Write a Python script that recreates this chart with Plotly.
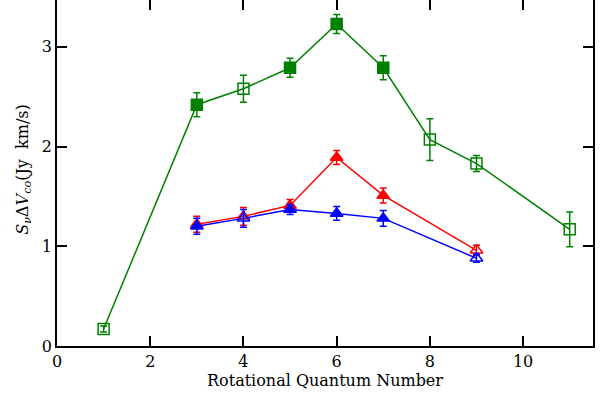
import plotly.graph_objects as go

# Green series (squares)
green_x = [1, 3, 4, 5, 6, 7, 8, 9, 11]
green_y = [0.17, 2.42, 2.58, 2.79, 3.23, 2.79, 2.07, 1.83, 1.17]
green_err = [0.03, 0.12, 0.135, 0.095, 0.095, 0.12, 0.21, 0.08, 0.175]
green_filled = [False, True, False, True, True, True, False, False, False]

# Red series (triangles)
red_x = [3, 4, 5, 6, 7, 9]
red_y = [1.22, 1.30, 1.41, 1.89, 1.51, 0.96]
red_err = [0.08, 0.09, 0.06, 0.07, 0.075, 0.05]
red_filled = [True, False, True, True, True, False]

# Blue series (triangles)
blue_x = [3, 4, 5, 6, 7, 9]
blue_y = [1.20, 1.28, 1.37, 1.33, 1.28, 0.88]
blue_err = [0.08, 0.09, 0.05, 0.07, 0.08, 0.04]
blue_filled = [True, False, True, True, True, False]

x_ticks = [0, 2, 4, 6, 8, 10]
y_ticks = [0, 1, 2, 3]

x_title = "Rotational Quantum Number"
y_title = "<i>S</i><sub><i>ν</i></sub>Δ<i>V</i><sub><i>co</i></sub>(Jy  km/s)"

FONT = "DejaVu Serif"


def sym(base, filled):
    return [base if f else base + "-open" for f in filled]


def add_series(fig, x, y, err, filled, base, color, size):
    fig.add_trace(go.Scatter(
        x=x, y=y, mode="lines+markers",
        line=dict(color=color, width=1.5),
        marker=dict(symbol=sym(base, filled), size=size, color=color,
                    line=dict(color=color, width=1.5)),
        error_y=dict(type="data", array=err, visible=True, color=color,
                     thickness=1.5, width=3.5),
        showlegend=False,
    ))


fig = go.Figure()
add_series(fig, green_x, green_y, green_err, green_filled, "square", "#008000", 11)
add_series(fig, red_x, red_y, red_err, red_filled, "triangle-up", "#ff0000", 11)
add_series(fig, blue_x, blue_y, blue_err, blue_filled, "triangle-up", "#0000ff", 11)

# invisible trace to activate top axis
fig.add_trace(go.Scatter(x=[0], y=[0], xaxis="x2", mode="markers",
                         marker=dict(opacity=0), showlegend=False, hoverinfo="skip"))

fig.update_layout(
    width=608, height=400,
    margin=dict(l=57, r=15, t=0, b=54),
    paper_bgcolor="white", plot_bgcolor="white",
    font=dict(family=FONT, size=16, color="black"),
    xaxis=dict(
        range=[0, 11.5], tickvals=x_ticks, ticks="inside", ticklen=10,
        tickwidth=1.5, tickcolor="black", showline=True, linecolor="black",
        linewidth=1.5, showgrid=False, zeroline=False,
        title=dict(text=x_title, font=dict(size=16), standoff=4),
        tickfont=dict(size=16),
    ),
    xaxis2=dict(
        range=[0, 11.5], overlaying="x", side="top", tickvals=x_ticks,
        ticks="inside", ticklen=10, tickwidth=1.5, tickcolor="black",
        showline=False, showticklabels=False, showgrid=False, zeroline=False,
    ),
    yaxis=dict(
        range=[0, 3.47], tickvals=y_ticks, ticks="inside", ticklen=10,
        tickwidth=1.5, tickcolor="black", showline=True, linecolor="black",
        linewidth=1.5, mirror="ticks", showgrid=False, zeroline=False,
        tickfont=dict(size=16),
    ),
    annotations=[dict(
        text=y_title, textangle=-90, showarrow=False,
        xref="paper", yref="paper", x=-0.063, y=0.51,
        xanchor="center", yanchor="middle", font=dict(size=16),
    )],
)

fig.write_html("out.html", config={"displayModeBar": False},
               post_script="document.body.style.margin='0';document.body.style.padding='0';")
